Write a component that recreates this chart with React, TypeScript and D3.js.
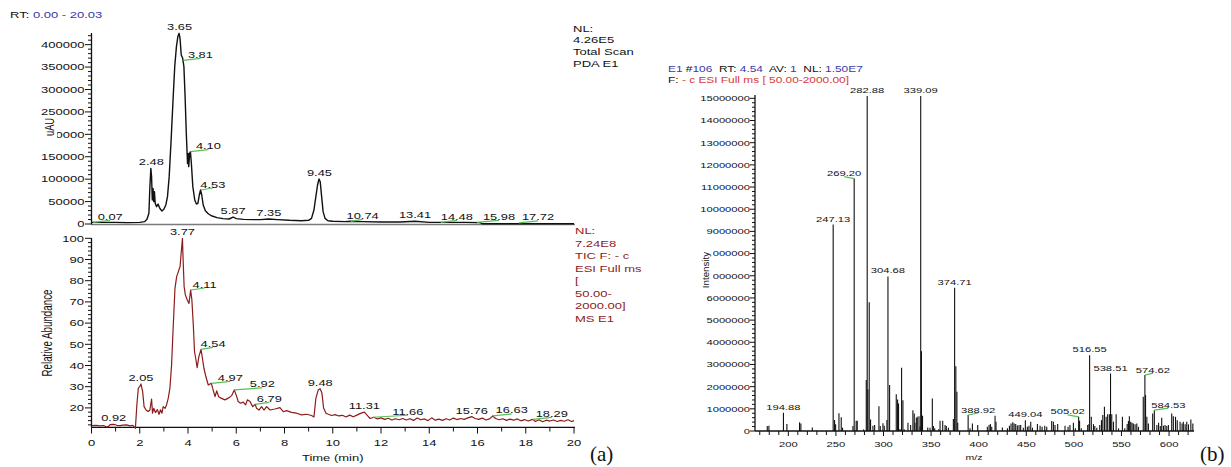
import React from "react";
import * as d3 from "d3";

// ---------- (a) top: PDA total scan chromatogram (uAU) ----------
const pdaTrace: [number, number][] = [
  [0, 3700], [0.5, 3700], [1, 3700], [1.5, 3000], [2, 3700], [2.2, 5200], [2.3, 10400],
  [2.38, 23800], [2.42, 83000], [2.46, 124000], [2.49, 105000], [2.52, 53500], [2.55, 79500],
  [2.58, 49800], [2.61, 72000], [2.64, 46000], [2.7, 38700], [2.76, 44600], [2.83, 35000],
  [2.92, 29000], [3.0, 32700], [3.08, 42400], [3.15, 61000], [3.22, 105600], [3.3, 187000],
  [3.38, 276600], [3.45, 351000], [3.52, 395500], [3.58, 418000], [3.63, 425300], [3.67, 414000],
  [3.72, 377000], [3.78, 369500], [3.83, 351000], [3.88, 284000], [3.93, 202000], [3.98, 135000],
  [4.01, 157600], [4.03, 128000], [4.07, 157600], [4.1, 161300], [4.14, 135000], [4.2, 83300],
  [4.28, 53500], [4.35, 44600], [4.41, 46000], [4.47, 64700], [4.52, 75800], [4.57, 64700],
  [4.63, 42400], [4.72, 29700], [4.85, 22300], [5.0, 17800], [5.2, 14100], [5.45, 11900],
  [5.7, 11150], [5.87, 15600], [6.0, 11900], [6.3, 10400], [6.7, 9700], [7.0, 9700],
  [7.35, 11150], [7.7, 9700], [8.2, 8200], [8.7, 7400], [9.0, 8200], [9.12, 12600],
  [9.22, 31200], [9.3, 61000], [9.37, 87000], [9.43, 100400], [9.48, 94400], [9.54, 61000],
  [9.6, 27500], [9.68, 12600], [9.8, 7400], [10.0, 6000], [10.5, 5200], [10.74, 6000],
  [11.2, 5200], [12.0, 4500], [12.8, 4500], [13.41, 6000], [14.0, 3700], [14.48, 3700],
  [15.0, 3700], [15.5, 3700], [16.1, 3000], [16.2, 700], [17.0, 700], [18.0, 700],
  [19.0, 700], [20.0, 700],
];
// labelled peaks: retention time, height
const pdaPeaks: [number, number][] = [
  [0.07, 3700], [2.48, 124000], [3.65, 425300], [3.81, 365000], [4.10, 161300], [4.53, 75800],
  [5.87, 15600], [7.35, 11150], [9.45, 100400], [10.74, 6000], [13.41, 6000], [14.48, 3700],
  [15.98, 3700], [17.72, 2500],
];
// green leader length per label (0 = label sits right above the peak)
const pdaLeaders = [17, 0, 0, 17, 18, 12, 0, 0, 0, 12, 0, 16, 22, 19];
const pdaYTicks = [0, 50000, 100000, 150000, 200000, 250000, 300000, 350000, 400000];
const pdaInfo = ["NL:", "4.26E5", "Total Scan", "PDA E1"];

// ---------- (a) bottom: TIC chromatogram (relative abundance) ----------
const ticTrace: [number, number][] = [
  [0, 11.6], [0.2, 11.8], [0.35, 11.5], [0.5, 11.7], [0.63, 11.0], [0.72, 11.4], [0.77, 12.1],
  [0.92, 12.2], [1.05, 11.8], [1.18, 11.6], [1.3, 11.9], [1.46, 12.0], [1.6, 11.5], [1.7, 11.8],
  [1.76, 11.2], [1.82, 10.4], [1.88, 21.4], [1.94, 29.3], [2.0, 30.0], [2.05, 31.3], [2.12, 27.7],
  [2.18, 20.6], [2.26, 19.0], [2.35, 18.3], [2.42, 19.0], [2.49, 24.2], [2.53, 17.5], [2.58, 19.8],
  [2.65, 17.8], [2.73, 19.2], [2.8, 17.0], [2.86, 19.1], [2.92, 17.5], [2.97, 20.6], [3.05, 19.8],
  [3.11, 21.4], [3.18, 24.5], [3.25, 29.3], [3.32, 40.3], [3.39, 59.1], [3.46, 76.4], [3.53, 81.9],
  [3.6, 84.3], [3.67, 86.6], [3.71, 92.1], [3.77, 100], [3.8, 89.0], [3.84, 77.2], [3.89, 73.3],
  [3.97, 70.9], [4.04, 69.3], [4.11, 75.6], [4.16, 71.0], [4.22, 59.1], [4.27, 46.6], [4.33, 42.6],
  [4.38, 39.0], [4.45, 44.2], [4.54, 47.6], [4.59, 44.0], [4.66, 38.7], [4.74, 34.8], [4.84, 30.8],
  [4.9, 31.2], [4.97, 31.6], [5.02, 29.3], [5.12, 25.3], [5.19, 28.0], [5.27, 25.3], [5.39, 24.5],
  [5.53, 23.8], [5.67, 24.6], [5.81, 25.8], [5.92, 28.5], [6.02, 25.3], [6.08, 23.0], [6.18, 22.2],
  [6.29, 22.7], [6.39, 21.4], [6.46, 23.8], [6.57, 23.0], [6.68, 20.6], [6.79, 21.7], [6.84, 19.8],
  [6.94, 19.0], [7.05, 20.6], [7.15, 19.0], [7.26, 20.6], [7.4, 19.0], [7.6, 19.5], [7.81, 20.1],
  [7.95, 18.2], [8.09, 18.7], [8.29, 17.9], [8.5, 17.5], [8.71, 16.7], [8.92, 17.0], [9.12, 16.4],
  [9.22, 15.7], [9.3, 24.5], [9.4, 28.5], [9.48, 29.0], [9.55, 27.0], [9.62, 20.0], [9.72, 17.5],
  [9.82, 17.0], [9.95, 16.4], [10.1, 16.8], [10.25, 16.2], [10.4, 16.5], [10.55, 15.7], [10.7, 16.6],
  [10.85, 15.8], [11.0, 16.6], [11.15, 17.4], [11.31, 18.0], [11.45, 16.2], [11.55, 15.0],
  [11.7, 15.6], [11.85, 14.8], [12.0, 15.3], [12.15, 14.6], [12.3, 15.1], [12.45, 14.3],
  [12.6, 14.9], [12.75, 14.4], [12.9, 15.0], [13.05, 14.3], [13.2, 14.9], [13.35, 14.1],
  [13.5, 15.2], [13.65, 14.4], [13.8, 14.8], [13.95, 14.0], [14.1, 15.3], [14.25, 14.2],
  [14.4, 14.7], [14.55, 14.1], [14.7, 14.9], [14.85, 14.3], [15.0, 15.2], [15.15, 14.5],
  [15.3, 15.0], [15.45, 14.6], [15.6, 15.3], [15.76, 15.9], [15.9, 15.0], [16.05, 14.6],
  [16.2, 15.2], [16.35, 14.3], [16.5, 14.8], [16.63, 16.2], [16.75, 15.0], [16.9, 14.4],
  [17.05, 14.9], [17.2, 14.1], [17.35, 14.7], [17.5, 14.2], [17.65, 14.8], [17.8, 13.9],
  [17.95, 14.5], [18.1, 13.8], [18.29, 14.6], [18.4, 13.6], [18.55, 14.4], [18.7, 13.5],
  [18.85, 14.2], [19.0, 13.8], [19.15, 14.3], [19.3, 13.6], [19.45, 14.1], [19.6, 13.7],
  [19.75, 14.4], [19.9, 13.6], [20.0, 14.0],
];
const ticPeaks: [number, number][] = [
  [0.92, 12.2], [2.05, 31.3], [3.77, 100], [4.11, 75.6], [4.54, 47.6], [4.97, 31.6], [5.92, 28.5],
  [6.79, 21.7], [9.48, 29.0], [11.31, 18.0], [11.66, 15.6], [15.76, 15.9], [16.63, 16.2], [18.29, 14.6],
];
const ticLeaders = [0, 0, 0, 14, 12, 19, 28, 14, 0, 0, 35, 0, 19, 19];
const ticYTicks = [20, 30, 40, 50, 60, 70, 80, 90, 100];
const timeTicks = [0, 2, 4, 6, 8, 10, 12, 14, 16, 18, 20];
const ticInfo = ["NL:", "7.24E8", "TIC F: - c", "ESI Full ms", "[", "50.00-", "2000.00]", "MS E1"];

// ---------- (b) mass spectrum at RT 4.54 ----------
const msPeaks: [number, number][] = [
  [177.9, 0.22e6], [179.6, 0.24e6], [194.88, 0.82e6], [198.5, 0.31e6], [211.8, 0.39e6], [213.2, 0.34e6],
  [225.2, 0.16e6], [247.13, 9.31e6], [248.6, 0.5e6], [249.7, 0.3e6], [253.2, 0.8e6], [255.6, 0.62e6],
  [257.0, 0.15e6], [267.9, 0.22e6], [269.2, 11.38e6], [271.3, 0.46e6], [272.4, 0.46e6], [279.0, 0.07e6],
  [281.9, 2.3e6], [282.88, 15.1e6], [283.6, 1.87e6], [285.0, 5.81e6], [286.4, 0.52e6], [288.9, 0.24e6],
  [290.7, 0.27e6], [295.2, 1.12e6], [296.6, 0.22e6], [299.4, 0.35e6], [300.8, 0.24e6], [303.6, 0.5e6],
  [304.68, 6.97e6], [306.4, 2.07e6], [313.4, 1.66e6], [314.8, 1.42e6], [315.8, 1.24e6], [317.3, 0.09e6],
  [319.0, 2.85e6], [320.4, 1.39e6], [321.8, 0.08e6], [325.7, 0.37e6], [328.5, 0.27e6], [330.9, 0.94e6],
  [332.3, 0.79e6], [333.0, 0.37e6], [334.5, 0.6e6], [335.5, 0.64e6], [337.3, 0.67e6], [338.4, 0.2e6],
  [339.09, 15.1e6], [339.9, 3.6e6], [341.0, 0.69e6], [346.5, 0.16e6], [348.9, 0.15e6], [351.3, 1.47e6],
  [352.4, 0.22e6], [353.8, 0.12e6], [358.0, 0.08e6], [359.4, 0.46e6], [362.2, 0.46e6], [364.7, 0.27e6],
  [366.0, 0.22e6], [368.2, 0.15e6], [373.4, 0.54e6], [374.71, 6.46e6], [376.0, 2.92e6], [377.1, 1.77e6],
  [378.0, 0.37e6], [388.92, 0.72e6], [390.9, 0.12e6], [393.4, 0.34e6], [399.0, 0.27e6], [409.1, 0.19e6],
  [410.9, 0.27e6], [412.3, 0.31e6], [413.7, 0.19e6], [417.2, 0.69e6], [418.2, 0.42e6], [424.9, 0.16e6],
  [430.2, 0.12e6], [432.3, 0.24e6], [434.0, 0.34e6], [435.8, 0.39e6], [437.2, 0.34e6], [438.9, 0.31e6],
  [440.6, 0.25e6], [442.4, 0.27e6], [444.1, 0.27e6], [446.9, 0.15e6], [449.04, 0.49e6], [451.1, 0.19e6],
  [452.8, 0.24e6], [454.7, 0.42e6], [456.5, 0.15e6], [461.7, 0.31e6], [464.5, 0.24e6], [466.6, 0.19e6],
  [469.4, 0.24e6], [471.5, 0.19e6], [476.7, 0.45e6], [478.5, 0.42e6], [480.2, 0.27e6], [483.0, 0.31e6],
  [490.7, 0.24e6], [493.9, 0.19e6], [495.9, 0.27e6], [499.5, 0.37e6], [501.6, 0.12e6], [505.02, 0.64e6],
  [506.0, 0.46e6], [507.8, 0.12e6], [514.5, 0.27e6], [515.9, 0.31e6], [516.55, 3.42e6], [518.3, 0.64e6],
  [520.6, 0.31e6], [522.0, 0.22e6], [524.1, 0.15e6], [527.2, 0.27e6], [529.0, 0.49e6], [530.4, 0.72e6],
  [532.1, 1.09e6], [533.9, 0.64e6], [535.5, 0.76e6], [537.3, 0.76e6], [538.51, 2.59e6], [539.8, 0.76e6],
  [541.6, 0.42e6], [544.4, 0.76e6], [546.9, 0.12e6], [551.0, 0.64e6], [553.5, 0.12e6], [556.0, 0.31e6],
  [557.3, 0.45e6], [558.3, 0.67e6], [559.7, 0.42e6], [561.1, 0.37e6], [562.5, 0.34e6], [564.3, 0.3e6],
  [566.1, 0.34e6], [567.8, 0.19e6], [572.9, 1.54e6], [574.62, 2.52e6], [575.3, 1.62e6], [576.7, 0.64e6],
  [578.3, 0.34e6], [582.8, 0.79e6], [584.53, 0.94e6], [587.2, 0.27e6], [589.0, 0.37e6], [590.8, 0.22e6],
  [592.3, 0.6e6], [594.1, 0.24e6], [595.8, 0.27e6], [597.6, 0.22e6], [599.3, 0.27e6], [602.8, 0.79e6],
  [604.5, 0.67e6], [606.8, 0.64e6], [608.6, 0.49e6], [611.6, 0.42e6], [613.7, 0.34e6], [615.0, 0.42e6],
  [616.9, 0.3e6], [618.6, 0.42e6], [620.4, 0.3e6], [622.9, 0.52e6], [625.0, 0.34e6],
];
const msLabels: [number, number][] = [
  [194.88, 0.82e6], [247.13, 9.31e6], [269.2, 11.38e6], [282.88, 15.1e6], [304.68, 6.97e6],
  [339.09, 15.1e6], [374.71, 6.46e6], [388.92, 0.72e6], [449.04, 0.49e6], [505.02, 0.64e6],
  [516.55, 3.42e6], [538.51, 2.59e6], [574.62, 2.52e6], [584.53, 0.94e6],
];
const msLeaders = [0, 0, -10, 0, 0, 0, 0, 10, 0, -11, 0, 0, 8, 14];
const msYTicks = [0, 1e6, 2e6, 3e6, 4e6, 5e6, 6e6, 7e6, 8e6, 9e6, 10e6, 11e6, 12e6, 13e6, 14e6, 15e6];
const mzTicks = [200, 250, 300, 350, 400, 450, 500, 550, 600];

const FONT = "'Liberation Sans', Arial, Helvetica, sans-serif";
const SX = 1.4; // the source figure is stretched horizontally
const INK = "#111";
const BLUE = "#3a3aa8";
const RED = "#d8373a";
const DARKRED = "#8c1c1c";
const GREEN = "#55c155";

function T({ x, y, size, anchor = "start", fill = INK, rotate = false, sx = SX, children }: any) {
  return (
    <text
      transform={`translate(${x},${y}) scale(${sx},1)${rotate ? " rotate(-90)" : ""}`}
      fontSize={size}
      textAnchor={anchor}
      fill={fill}
      fontFamily={FONT}
      style={{ whiteSpace: "pre" }}
    >
      {children}
    </text>
  );
}

const xT = d3.scaleLinear().domain([0, 20]).range([91.5, 574]);
const yPda = d3.scaleLinear().domain([0, 426000]).range([224, 33]);
const yTic = d3.scaleLinear().domain([10.85, 100]).range([427.3, 238.3]);
const xMz = d3.scaleLinear().domain([165, 626]).range([755, 1193.8]);
const yMs = d3.scaleLinear().domain([0, 1.515e7]).range([431, 95]);

function PeakLabels({ peaks, leaders, x, y, size, digits = 2 }: any) {
  return (
    <g>
      {peaks.map(([px, pv]: [number, number], i: number) => {
        const x0 = x(px);
        const y0 = y(pv);
        const L = leaders[i];
        if (!L) {
          return (
            <T key={i} x={x0} y={y0 - 3} size={size} anchor="middle">
              {px.toFixed(digits)}
            </T>
          );
        }
        return (
          <g key={i}>
            <line x1={x0} y1={y0} x2={x0 + L} y2={y0 - 2} stroke={GREEN} strokeWidth={1.2} />
            <T x={x0 + L} y={y0 - 2.5} size={size} anchor="middle">
              {px.toFixed(digits)}
            </T>
          </g>
        );
      })}
    </g>
  );
}

export default function App() {
  const linePda = d3.line<[number, number]>().x((d) => xT(d[0])).y((d) => yPda(d[1]));
  const lineTic = d3.line<[number, number]>().x((d) => xT(d[0])).y((d) => yTic(d[1]));

  const pdaMinor = d3.range(0, 420001, 10000).filter((v) => v % 50000 !== 0);
  const ticMinor = d3.range(12, 100, 2).filter((v) => v % 10 !== 0);
  const timeMinor = d3.range(1, 20, 2);
  const msMinor = d3.range(0, 15.01e6, 2e5).filter((v) => Math.round(v) % 1e6 !== 0);
  const mzMinor = d3.range(170, 621, 10).filter((v) => v % 50 !== 0);

  return (
    <svg
      width={1231}
      height={467}
      style={{ position: "absolute", left: 0, top: 0, background: "#fff" }}
    >
      <rect width={1231} height={467} fill="#fff" />

      {/* ---------------- top chromatogram ---------------- */}
      <text fontSize={9.3} fontFamily={FONT} transform={`translate(10,18.3) scale(${SX},1)`} style={{ whiteSpace: "pre" }}>
        <tspan fill={INK}>RT: </tspan>
        <tspan fill={BLUE}>0.00 - 20.03</tspan>
      </text>

      <line x1={xT(0)} x2={xT(20) + 1} y1={224.5} y2={224.5} stroke="#7a7a7a" strokeWidth={1.6} />
      <line x1={91.5} x2={91.5} y1={33} y2={224.5} stroke={INK} strokeWidth={1.3} />
      {pdaMinor.map((v) => (
        <line key={v} x1={88} x2={91.5} y1={yPda(v)} y2={yPda(v)} stroke={INK} strokeWidth={1} />
      ))}
      {pdaYTicks.map((v) => (
        <g key={v}>
          <line x1={85} x2={91.5} y1={yPda(v)} y2={yPda(v)} stroke={INK} strokeWidth={1} />
          <T x={84.5} y={yPda(v) + 3.3} size={9.3} anchor="end">{String(v)}</T>
        </g>
      ))}
      <rect x={40} y={115} width={17} height={24} fill="#fff" />
      <T x={54} y={127} size={9.3} anchor="middle" rotate>uAU</T>

      <path d={linePda(pdaTrace) || ""} fill="none" stroke="#111" strokeWidth={1.4} strokeLinejoin="round" />
      <PeakLabels peaks={pdaPeaks} leaders={pdaLeaders} x={xT} y={yPda} size={9.2} />

      {pdaInfo.map((s, i) => (
        <T key={s} x={573} y={31.7 + i * 11.7} size={9.3}>{s}</T>
      ))}

      {/* ---------------- bottom chromatogram ---------------- */}
      <line x1={91.5} x2={91.5} y1={238} y2={427.3} stroke={INK} strokeWidth={1.3} />
      <line x1={91.5} x2={xT(20) + 1} y1={427.3} y2={427.3} stroke={INK} strokeWidth={1.3} />
      {ticMinor.map((v) => (
        <line key={v} x1={88} x2={91.5} y1={yTic(v)} y2={yTic(v)} stroke={INK} strokeWidth={1} />
      ))}
      {ticYTicks.map((v) => (
        <g key={v}>
          <line x1={85} x2={91.5} y1={yTic(v)} y2={yTic(v)} stroke={INK} strokeWidth={1} />
          <T x={84} y={yTic(v) + 3.3} size={9.3} anchor="end">{String(v)}</T>
        </g>
      ))}
      {timeMinor.map((v) => (
        <line key={v} x1={xT(v)} x2={xT(v)} y1={427.3} y2={431.5} stroke={INK} strokeWidth={1} />
      ))}
      {timeTicks.map((v) => (
        <g key={v}>
          <line x1={xT(v)} x2={xT(v)} y1={427.3} y2={433.5} stroke={INK} strokeWidth={1} />
          <T x={xT(v)} y={446} size={9.3} anchor="middle">{String(v)}</T>
        </g>
      ))}
      <T x={xT(10)} y={461} size={9.3} anchor="middle">Time (min)</T>
      <T x={51.5} y={333} size={9.8} anchor="middle" rotate>Relative Abundance</T>

      <path d={lineTic(ticTrace) || ""} fill="none" stroke={DARKRED} strokeWidth={1.2} strokeLinejoin="round" />
      <PeakLabels peaks={ticPeaks} leaders={ticLeaders} x={xT} y={yTic} size={9.2} />

      {ticInfo.map((s, i) => (
        <T key={i} x={575} y={234.3 + i * 12.5} size={9.3} fill={DARKRED}>{s}</T>
      ))}

      <text x={590} y={461} fontSize={21} fontFamily="'Liberation Serif', 'Times New Roman', serif" fill="#111">(a)</text>

      {/* ---------------- mass spectrum ---------------- */}
      <text fontSize={8.5} fontFamily={FONT} transform={`translate(668,72.3) scale(${SX},1)`} style={{ whiteSpace: "pre" }}>
        <tspan fill={BLUE}>E1</tspan>
        <tspan fill={INK}> #</tspan>
        <tspan fill={BLUE}>106</tspan>
        <tspan fill={INK}>  RT: </tspan>
        <tspan fill={BLUE}>4.54</tspan>
        <tspan fill={INK}>  AV: </tspan>
        <tspan fill={BLUE}>1</tspan>
        <tspan fill={INK}>  NL: </tspan>
        <tspan fill={BLUE}>1.50E7</tspan>
      </text>
      <text fontSize={8.5} fontFamily={FONT} transform={`translate(668,82.7) scale(${SX},1)`} style={{ whiteSpace: "pre" }}>
        <tspan fill={INK}>F: </tspan>
        <tspan fill={RED}>- c ESI Full ms [ 50.00-2000.00]</tspan>
      </text>

      {msPeaks.map(([mz, v], i) => (
        <line key={i} x1={xMz(mz)} x2={xMz(mz)} y1={yMs(0)} y2={yMs(v)} stroke="#111" strokeWidth={1.1} />
      ))}

      <line x1={755} x2={755} y1={95} y2={431} stroke={INK} strokeWidth={1.3} />
      <line x1={755} x2={1194} y1={431} y2={431} stroke={INK} strokeWidth={1.6} />
      {msMinor.map((v) => (
        <line key={v} x1={752} x2={755} y1={yMs(v)} y2={yMs(v)} stroke={INK} strokeWidth={1} />
      ))}
      {msYTicks.map((v) => (
        <g key={v}>
          <line x1={750} x2={755} y1={yMs(v)} y2={yMs(v)} stroke={INK} strokeWidth={1} />
          <T x={750} y={yMs(v) + 2.9} size={8} anchor="end">{String(v)}</T>
        </g>
      ))}
      {mzMinor.map((v) => (
        <line key={v} x1={xMz(v)} x2={xMz(v)} y1={431} y2={435} stroke={INK} strokeWidth={1} />
      ))}
      {mzTicks.map((v) => (
        <g key={v}>
          <line x1={xMz(v)} x2={xMz(v)} y1={431} y2={436} stroke={INK} strokeWidth={1} />
          <T x={xMz(v)} y={447.3} size={8} anchor="middle">{String(v)}</T>
        </g>
      ))}
      <rect x={699} y={249} width={14} height={40} fill="#fff" />
      <T x={708.5} y={270} size={9.8} sx={1} anchor="middle" rotate>Intensity</T>
      <T x={974} y={460} size={7.5} anchor="middle">m/z</T>

      <PeakLabels peaks={msLabels} leaders={msLeaders} x={xMz} y={yMs} size={8} />

      <text x={1200} y={461} fontSize={21} fontFamily="'Liberation Serif', 'Times New Roman', serif" fill="#111">(b)</text>
    </svg>
  );
}
